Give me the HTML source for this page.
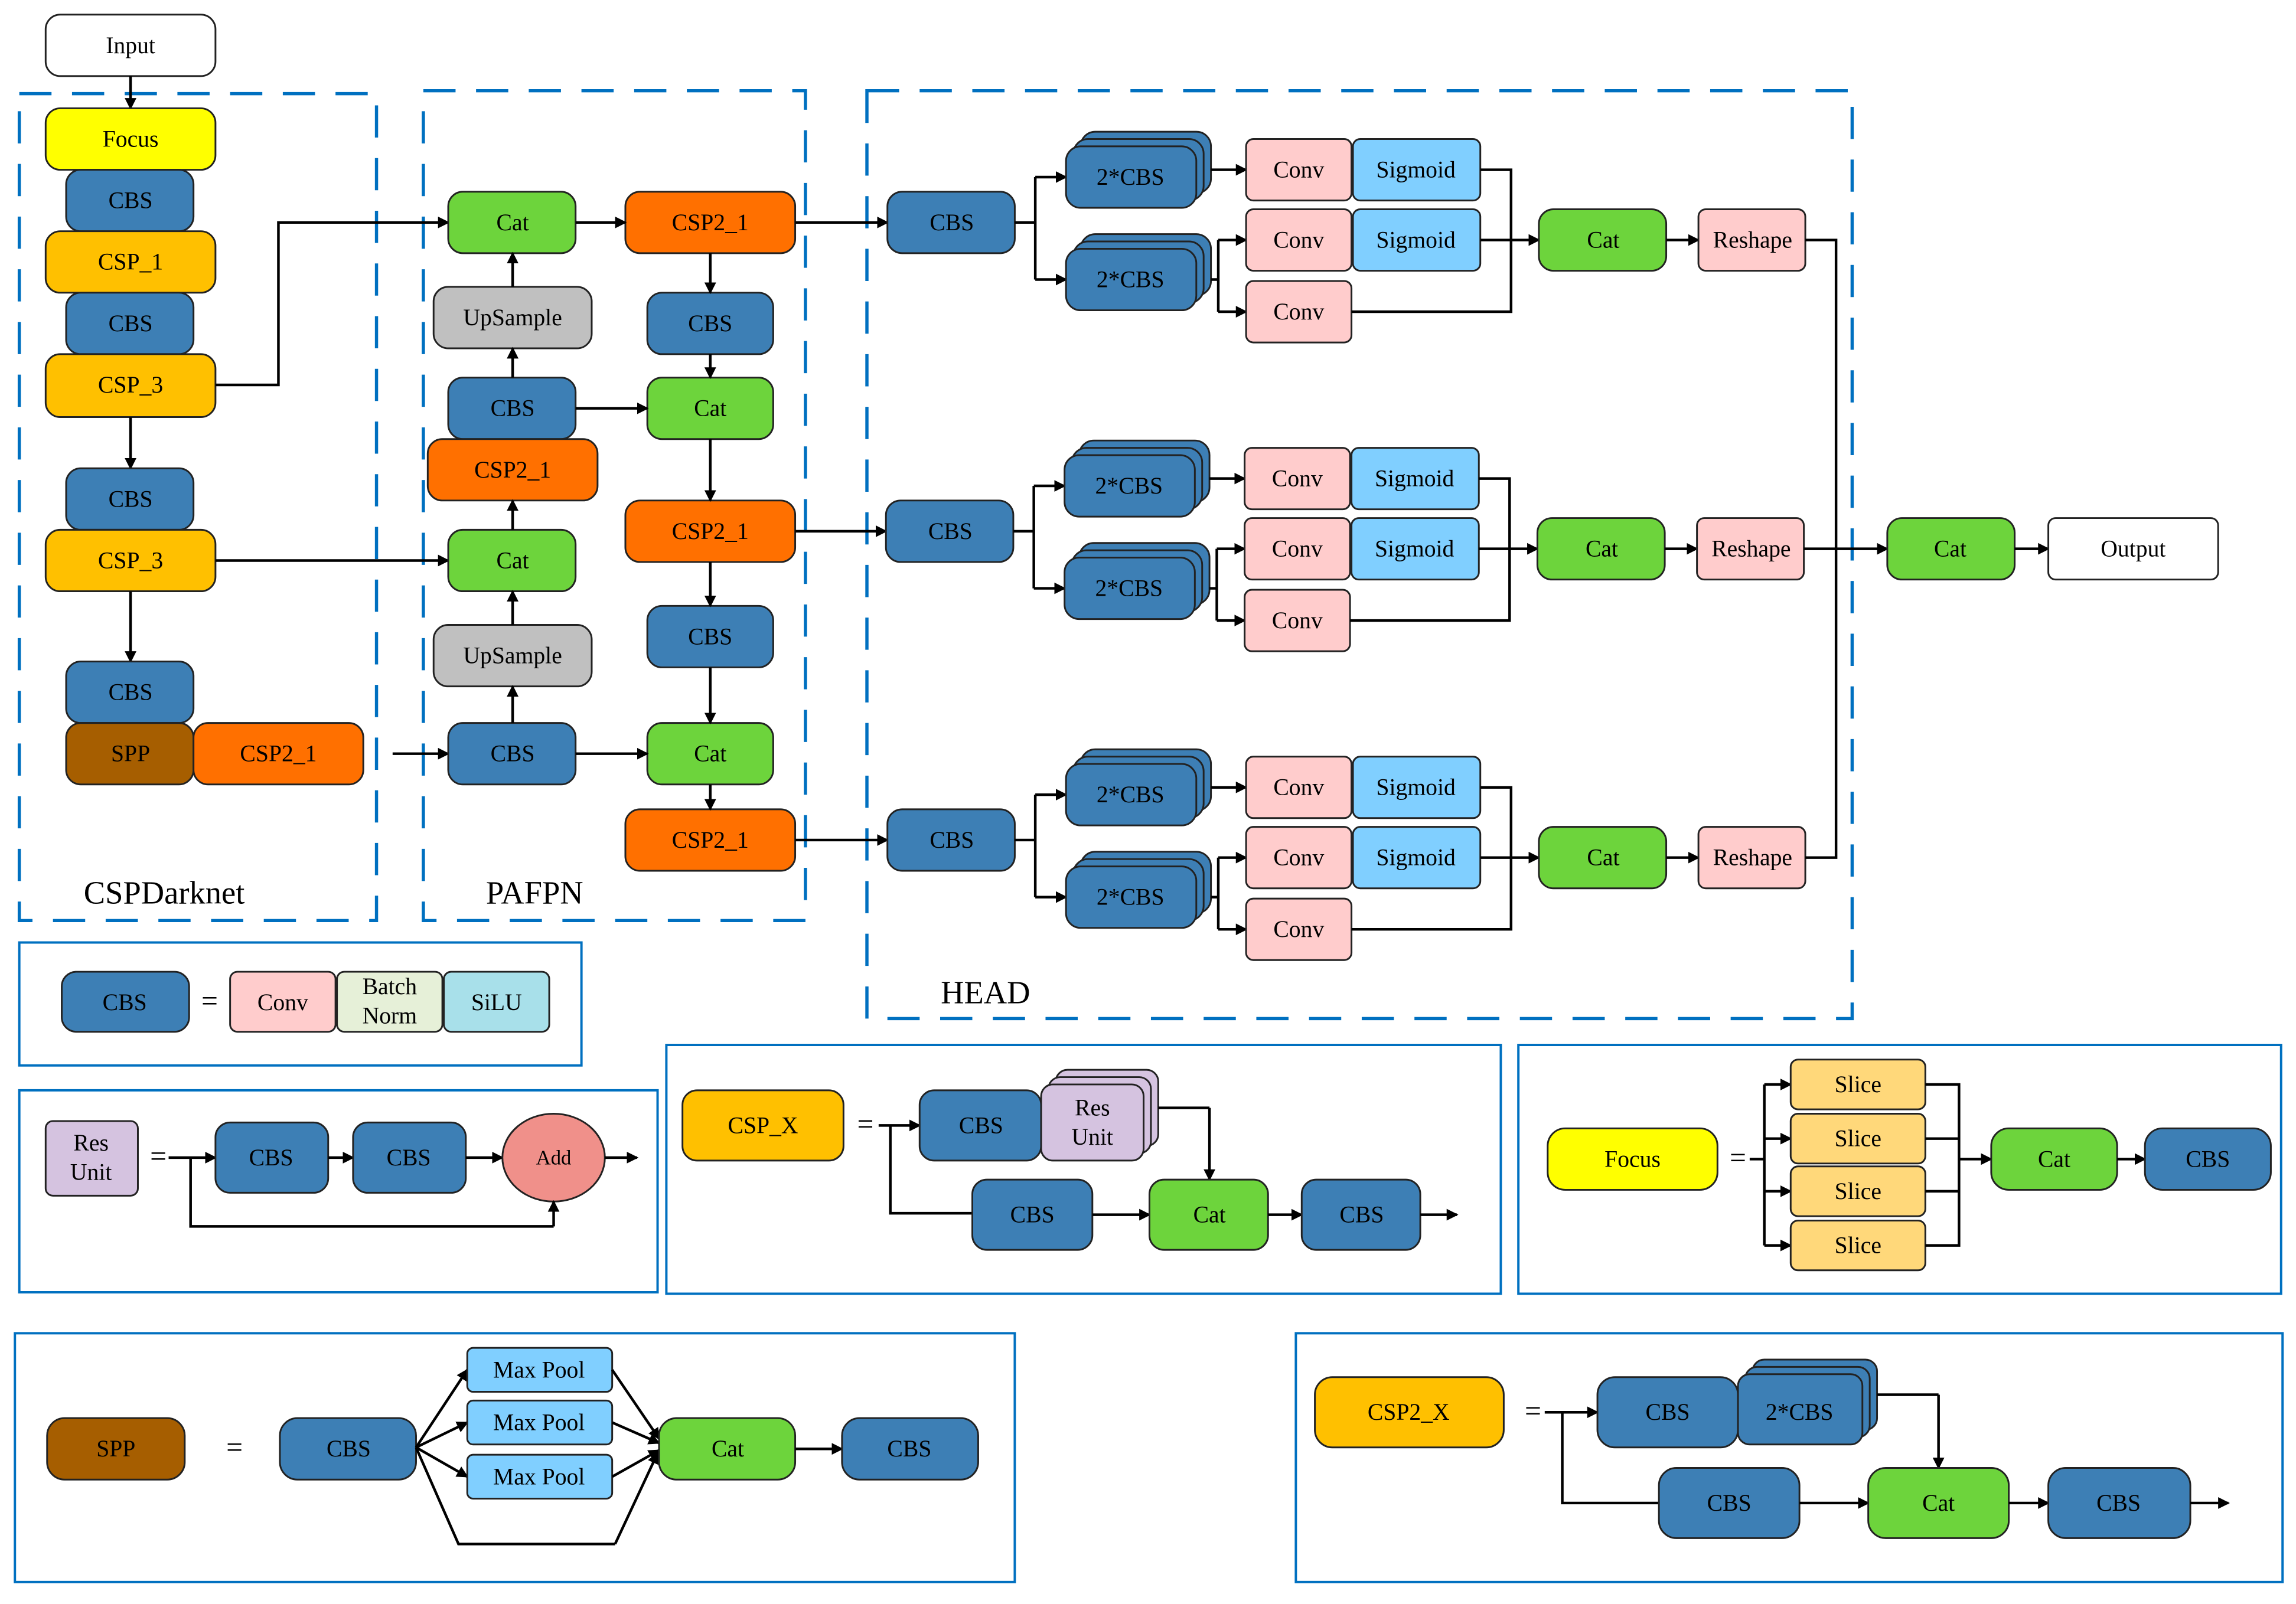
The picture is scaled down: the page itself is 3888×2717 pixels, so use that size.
<!DOCTYPE html>
<html><head><meta charset="utf-8"><style>
html,body{margin:0;padding:0;background:#fff}
svg{display:block;font-family:"Liberation Serif","Times New Roman","DejaVu Serif",serif}
text{font-family:"Liberation Serif","Times New Roman","DejaVu Serif",serif;font-size:16px;fill:#000;text-anchor:middle;dominant-baseline:central}
.b{stroke:#222;stroke-width:1.2}
.l{stroke:#000;stroke-width:1.8;fill:none}
.a{stroke:#000;stroke-width:1.8;fill:none;marker-end:url(#ar)}
.d{stroke:#0070c0;stroke-width:2.2;fill:none;stroke-dasharray:22,14}
.f{stroke:#0070c0;stroke-width:1.6;fill:none}
.cbs{fill:#3d7fb5}.cat{fill:#6dd43c}.csp2{fill:#ff7000}.csp{fill:#ffc000}.up{fill:#c0c0c0}
.conv{fill:#ffcccc}.sig{fill:#80cfff}
</style></head><body>
<svg width="3888" height="2717" viewBox="0 0 1568 1096" xmlns="http://www.w3.org/2000/svg" font-family="Liberation Serif, serif">
<defs><marker id="ar" markerWidth="8" markerHeight="8" refX="7" refY="4" orient="auto" markerUnits="userSpaceOnUse"><path d="M0,0 L8,4 L0,8 z" fill="#000"/></marker></defs>

<rect class="d" x="13" y="64" width="244" height="565"/>
<rect class="d" x="289" y="62" width="261" height="567"/>
<rect class="d" x="592" y="62" width="673" height="634"/>
<text x="112" y="610" style="font-size:22px">CSPDarknet</text>
<text x="365" y="610" style="font-size:22px">PAFPN</text>
<text x="673" y="678" style="font-size:22px">HEAD</text>

<rect class="b" x="31" y="10" width="116" height="42" rx="10" fill="#fff"/><text x="89" y="31">Input</text>
<path class="a" d="M89,52 V74"/>
<rect class="b" x="31" y="74" width="116" height="42" rx="10" fill="#ffff00"/><text x="89" y="95">Focus</text>
<rect class="b cbs" x="45" y="116" width="87" height="42" rx="10"/><text x="89" y="137">CBS</text>
<rect class="b csp" x="31" y="158" width="116" height="42" rx="10"/><text x="89" y="179">CSP_1</text>
<rect class="b cbs" x="45" y="200" width="87" height="42" rx="10"/><text x="89" y="221">CBS</text>
<rect class="b csp" x="31" y="242" width="116" height="43" rx="10"/><text x="89" y="263">CSP_3</text>
<path class="a" d="M89,285 V320"/>
<rect class="b cbs" x="45" y="320" width="87" height="42" rx="10"/><text x="89" y="341">CBS</text>
<rect class="b csp" x="31" y="362" width="116" height="42" rx="10"/><text x="89" y="383">CSP_3</text>
<path class="a" d="M89,404 V452"/>
<rect class="b cbs" x="45" y="452" width="87" height="42" rx="10"/><text x="89" y="473">CBS</text>
<rect class="b" x="45" y="494" width="87" height="42" rx="10" fill="#a65e00"/><text x="89" y="515">SPP</text>
<rect class="b csp2" x="132" y="494" width="116" height="42" rx="10"/><text x="190" y="515">CSP2_1</text>

<path class="a" d="M147,263 H190 V152 H306"/>
<path class="a" d="M147,383 H306"/>
<path class="a" d="M268,515 H306"/>
<rect class="b cat" x="306" y="131" width="87" height="42" rx="10"/><text x="350" y="152">Cat</text>
<rect class="b csp2" x="427" y="131" width="116" height="42" rx="10"/><text x="485" y="152">CSP2_1</text>
<rect class="b up" x="296" y="196" width="108" height="42" rx="10"/><text x="350" y="217">UpSample</text>
<rect class="b cbs" x="306" y="258" width="87" height="42" rx="10"/><text x="350" y="279">CBS</text>
<rect class="b csp2" x="292" y="300" width="116" height="42" rx="10"/><text x="350" y="321">CSP2_1</text>
<rect class="b cat" x="306" y="362" width="87" height="42" rx="10"/><text x="350" y="383">Cat</text>
<rect class="b up" x="296" y="427" width="108" height="42" rx="10"/><text x="350" y="448">UpSample</text>
<rect class="b cbs" x="306" y="494" width="87" height="42" rx="10"/><text x="350" y="515">CBS</text>
<rect class="b cbs" x="442" y="200" width="86" height="42" rx="10"/><text x="485" y="221">CBS</text>
<rect class="b cat" x="442" y="258" width="86" height="42" rx="10"/><text x="485" y="279">Cat</text>
<rect class="b csp2" x="427" y="342" width="116" height="42" rx="10"/><text x="485" y="363">CSP2_1</text>
<rect class="b cbs" x="442" y="414" width="86" height="42" rx="10"/><text x="485" y="435">CBS</text>
<rect class="b cat" x="442" y="494" width="86" height="42" rx="10"/><text x="485" y="515">Cat</text>
<rect class="b csp2" x="427" y="553" width="116" height="42" rx="10"/><text x="485" y="574">CSP2_1</text>
<path class="a" d="M393,152 H427"/>
<path class="a" d="M485,173 V200"/>
<path class="a" d="M485,242 V258"/>
<path class="a" d="M393,279 H442"/>
<path class="a" d="M485,300 V342"/>
<path class="a" d="M485,384 V414"/>
<path class="a" d="M485,456 V494"/>
<path class="a" d="M393,515 H442"/>
<path class="a" d="M485,536 V553"/>
<path class="a" d="M350,258 V238"/>
<path class="a" d="M350,196 V173"/>
<path class="a" d="M350,362 V342"/>
<path class="a" d="M350,427 V404"/>
<path class="a" d="M350,494 V469"/>
<path class="a" d="M543,152 H606"/>
<path class="a" d="M543,363 H605"/>
<path class="a" d="M543,574 H606"/>

<g id="row">
<rect class="b cbs" x="606" y="131" width="87" height="42" rx="10"/><text x="650" y="152">CBS</text>
<path class="l" d="M693,152 H707 M707,121 V191"/>
<path class="a" d="M707,121 H728"/><path class="a" d="M707,191 H728"/>
<rect class="b cbs" x="738" y="90" width="89" height="42" rx="10"/>
<rect class="b cbs" x="733" y="95" width="89" height="42" rx="10"/>
<rect class="b cbs" x="728" y="100" width="89" height="42" rx="10"/><text x="772" y="121">2*CBS</text>
<rect class="b cbs" x="738" y="160" width="89" height="42" rx="10"/>
<rect class="b cbs" x="733" y="165" width="89" height="42" rx="10"/>
<rect class="b cbs" x="728" y="170" width="89" height="42" rx="10"/><text x="772" y="191">2*CBS</text>
<path class="a" d="M827,116 H851"/>
<path class="l" d="M827,191 H832 M832,164 V213"/>
<path class="a" d="M832,164 H851"/><path class="a" d="M832,213 H851"/>
<rect class="b conv" x="851" y="95" width="72" height="42" rx="5"/><text x="887" y="116">Conv</text>
<rect class="b sig" x="924" y="95" width="87" height="42" rx="5"/><text x="967" y="116">Sigmoid</text>
<rect class="b conv" x="851" y="143" width="72" height="42" rx="5"/><text x="887" y="164">Conv</text>
<rect class="b sig" x="924" y="143" width="87" height="42" rx="5"/><text x="967" y="164">Sigmoid</text>
<rect class="b conv" x="851" y="192" width="72" height="42" rx="5"/><text x="887" y="213">Conv</text>
<path class="l" d="M1011,116 H1032 V213 H923 M1011,164 H1032"/>
<path class="a" d="M1032,164 H1051"/>
<rect class="b cat" x="1051" y="143" width="87" height="42" rx="10"/><text x="1095" y="164">Cat</text>
<path class="a" d="M1138,164 H1160"/>
<rect class="b conv" x="1160" y="143" width="73" height="42" rx="5"/><text x="1197" y="164">Reshape</text>
</g>
<use href="#row" x="-1" y="211"/>
<use href="#row" x="0" y="422"/>
<path class="l" d="M1233,164 H1254 V586 H1233"/>
<path class="a" d="M1232,375 H1289"/>
<rect class="b cat" x="1289" y="354" width="87" height="42" rx="10"/><text x="1332" y="375">Cat</text>
<path class="a" d="M1376,375 H1399"/>
<rect class="b" x="1399" y="354" width="116" height="42" rx="5" fill="#fff"/><text x="1457" y="375">Output</text>

<rect class="f" x="13" y="644" width="384" height="84"/>
<rect class="b cbs" x="42" y="664" width="87" height="41" rx="10"/><text x="85" y="685">CBS</text>
<text x="143" y="684" style="font-size:20px">=</text>
<rect class="b conv" x="157" y="664" width="72" height="41" rx="5"/><text x="193" y="685">Conv</text>
<rect class="b" x="230" y="664" width="72" height="41" rx="5" fill="#e6f0d8"/><text x="266" y="674">Batch</text><text x="266" y="694">Norm</text>
<rect class="b" x="303" y="664" width="72" height="41" rx="5" fill="#a8e0ea"/><text x="339" y="685">SiLU</text>

<rect class="f" x="13" y="745" width="436" height="138"/>
<rect class="b" x="31" y="766" width="63" height="51" rx="5" fill="#d5c3e0"/><text x="62" y="781">Res</text><text x="62" y="801">Unit</text>
<text x="108" y="790" style="font-size:20px">=</text>
<path class="a" d="M115,791 H147"/>
<rect class="b cbs" x="147" y="767" width="77" height="48" rx="10"/><text x="185" y="791">CBS</text>
<path class="a" d="M224,791 H241"/>
<rect class="b cbs" x="241" y="767" width="77" height="48" rx="10"/><text x="279" y="791">CBS</text>
<path class="a" d="M318,791 H343"/>
<ellipse class="b" cx="378" cy="791" rx="35" ry="30" fill="#f0908a"/><text x="378" y="791" style="font-size:14px">Add</text>
<path class="a" d="M413,791 H435"/>
<path class="l" d="M130,791 V838 H378"/><path class="a" d="M378,838 V821"/>

<rect class="f" x="455" y="714" width="570" height="170"/>
<rect class="b csp" x="466" y="745" width="110" height="48" rx="10"/><text x="521" y="769">CSP_X</text>
<text x="591" y="768" style="font-size:20px">=</text>
<path class="a" d="M600,769 H628"/>
<rect class="b cbs" x="628" y="745" width="83" height="48" rx="10"/><text x="670" y="769">CBS</text>
<rect class="b" x="721" y="731" width="70" height="52" rx="8" fill="#d5c3e0"/>
<rect class="b" x="716" y="736" width="70" height="52" rx="8" fill="#d5c3e0"/>
<rect class="b" x="711" y="741" width="70" height="52" rx="8" fill="#d5c3e0"/><text x="746" y="757">Res</text><text x="746" y="777">Unit</text>
<path class="l" d="M791,757 H826"/><path class="a" d="M826,757 V806"/>
<path class="l" d="M608,769 V829 H664"/>
<rect class="b cbs" x="664" y="806" width="82" height="48" rx="10"/><text x="705" y="830">CBS</text>
<path class="a" d="M746,830 H785"/>
<rect class="b cat" x="785" y="806" width="81" height="48" rx="10"/><text x="826" y="830">Cat</text>
<path class="a" d="M866,830 H889"/>
<rect class="b cbs" x="889" y="806" width="81" height="48" rx="10"/><text x="930" y="830">CBS</text>
<path class="a" d="M970,830 H995"/>

<rect class="f" x="1037" y="714" width="521" height="170"/>
<rect class="b" x="1057" y="771" width="116" height="42" rx="12" fill="#ffff00"/><text x="1115" y="792">Focus</text>
<text x="1187" y="791" style="font-size:20px">=</text>
<path class="l" d="M1195,792 H1205 M1205,741 V851"/>
<path class="a" d="M1205,741 H1223"/><path class="a" d="M1205,778 H1223"/><path class="a" d="M1205,814 H1223"/><path class="a" d="M1205,851 H1223"/>
<rect class="b" x="1223" y="724" width="92" height="34" rx="5" fill="#ffd87a"/><text x="1269" y="741">Slice</text>
<rect class="b" x="1223" y="761" width="92" height="34" rx="5" fill="#ffd87a"/><text x="1269" y="778">Slice</text>
<rect class="b" x="1223" y="797" width="92" height="34" rx="5" fill="#ffd87a"/><text x="1269" y="814">Slice</text>
<rect class="b" x="1223" y="834" width="92" height="34" rx="5" fill="#ffd87a"/><text x="1269" y="851">Slice</text>
<path class="l" d="M1315,741 H1338 V851 H1315 M1315,778 H1338 M1315,814 H1338"/>
<path class="a" d="M1338,792 H1360"/>
<rect class="b cat" x="1360" y="771" width="86" height="42" rx="12"/><text x="1403" y="792">Cat</text>
<path class="a" d="M1446,792 H1465"/>
<rect class="b cbs" x="1465" y="771" width="86" height="42" rx="12"/><text x="1508" y="792">CBS</text>

<rect class="f" x="10" y="911" width="683" height="170"/>
<rect class="b" x="32" y="969" width="94" height="42" rx="12" fill="#a65e00"/><text x="79" y="990">SPP</text>
<text x="160" y="989" style="font-size:20px">=</text>
<rect class="b cbs" x="191" y="969" width="93" height="42" rx="12"/><text x="238" y="990">CBS</text>
<path class="a" d="M284,989 L319,936"/><path class="a" d="M284,989 L319,972"/><path class="a" d="M284,989 L319,1009"/>
<path class="l" d="M284,989 L313,1055 H420"/><path class="a" d="M420,1055 L449,993"/>
<rect class="b sig" x="319" y="921" width="99" height="30" rx="4"/><text x="368" y="936">Max Pool</text>
<rect class="b sig" x="319" y="957" width="99" height="30" rx="4"/><text x="368" y="972">Max Pool</text>
<rect class="b sig" x="319" y="994" width="99" height="30" rx="4"/><text x="368" y="1009">Max Pool</text>
<path class="a" d="M418,936 L450,983"/><path class="a" d="M418,972 L450,986"/><path class="a" d="M418,1009 L450,991"/>
<rect class="b cat" x="450" y="969" width="93" height="42" rx="12"/><text x="497" y="990">Cat</text>
<path class="a" d="M543,990 H575"/>
<rect class="b cbs" x="575" y="969" width="93" height="42" rx="12"/><text x="621" y="990">CBS</text>

<rect class="f" x="885" y="911" width="674" height="170"/>
<rect class="b csp" x="898" y="941" width="129" height="48" rx="12"/><text x="962" y="965">CSP2_X</text>
<text x="1047" y="964" style="font-size:20px">=</text>
<path class="a" d="M1055,965 H1091"/>
<rect class="b cbs" x="1091" y="941" width="96" height="48" rx="12"/><text x="1139" y="965">CBS</text>
<rect class="b cbs" x="1197" y="929" width="85" height="48" rx="8"/>
<rect class="b cbs" x="1192" y="934" width="85" height="48" rx="8"/>
<rect class="b cbs" x="1187" y="939" width="85" height="48" rx="8"/><text x="1229" y="965">2*CBS</text>
<path class="l" d="M1282,953 H1324"/><path class="a" d="M1324,953 V1003"/>
<path class="l" d="M1067,965 V1027 H1133"/>
<rect class="b cbs" x="1133" y="1003" width="96" height="48" rx="12"/><text x="1181" y="1027">CBS</text>
<path class="a" d="M1229,1027 H1276"/>
<rect class="b cat" x="1276" y="1003" width="96" height="48" rx="12"/><text x="1324" y="1027">Cat</text>
<path class="a" d="M1372,1027 H1399"/>
<rect class="b cbs" x="1399" y="1003" width="97" height="48" rx="12"/><text x="1447" y="1027">CBS</text>
<path class="a" d="M1496,1027 H1522"/>
</svg>
</body></html>
